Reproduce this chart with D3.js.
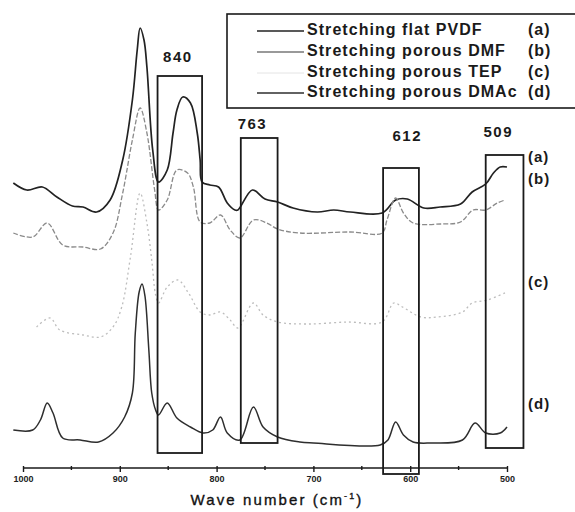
<!DOCTYPE html>
<html><head><meta charset="utf-8">
<script src="https://cdn.jsdelivr.net/npm/d3@7"></script>
<style>
html,body{margin:0;padding:0;background:#fff;}
svg{display:block;font-family:"Liberation Sans",Arial,Helvetica,sans-serif;}
</style></head>
<body>
<script>
// ---- data (wave number cm^-1, offset intensity a.u.) ----
const waveA = [1010,996,980,965,949,938,924,910,897,887,882,879,875,872,866,860,851,845,841,835,827,820,817,815,807,798,789,781,778,763,750,737,721,696,679,662,629,615,603,586,569,548,536,522,514,507,500];
const valA  = [28.5,27.8,28.1,27.1,26.2,26.1,25.6,26.8,30.8,36.8,41.8,44.0,42.8,40.1,31.8,28.6,29.8,33.5,35.8,37.1,36.5,33.5,30.8,28.6,28.3,28.1,26.5,25.8,25.8,27.8,26.9,26.6,26.0,25.6,25.8,25.6,25.5,26.8,26.9,26.0,26.1,26.4,27.6,28.4,29.5,30.1,30.1];

const waveB = [1010,990,975,959,938,920,907,897,887,879,872,864,860,851,841,830,824,817,807,796,786,776,762,748,737,714,662,629,624,615,607,597,569,548,535,522,510,502];
const valB  = [23.5,23.1,24.5,22.3,22.1,21.9,23.5,27.5,32.8,36.0,33.5,27.8,25.8,26.8,29.8,29.5,28.1,24.6,24.5,25.3,23.8,23.0,24.8,24.5,23.9,23.5,23.6,23.5,24.8,27.0,25.5,24.5,24.4,24.6,25.8,25.8,26.5,26.8];

const waveC = [986,972,962,938,920,907,898,889,879,872,867,863,860,851,840,829,817,807,796,786,778,762,752,737,706,665,629,617,608,589,572,546,536,520,500];
const valC  = [14.1,15.0,13.8,13.3,13.1,14.1,16.1,21.1,27.5,24.5,20.8,17.3,16.5,18.1,18.8,17.5,15.6,15.3,15.6,14.8,14.0,16.5,15.3,14.6,14.4,14.6,14.6,16.5,16.1,15.1,15.1,15.6,16.5,16.8,17.6];

const waveD = [1010,990,982,975,969,959,941,922,907,895,887,884,880,877,874,870,867,863,860,851,841,827,814,804,796,789,776,762,752,737,714,700,631,623,615,607,597,579,546,533,522,507,500];
const valD  = [3.8,3.8,4.8,6.5,5.5,3.0,2.8,2.6,3.5,5.1,7.5,13.5,17.6,18.4,17.2,11.8,7.5,5.8,5.3,6.5,5.0,4.1,3.5,3.8,5.1,3.5,2.8,6.1,4.1,3.1,2.6,2.5,2.3,2.8,4.6,3.3,2.6,2.5,2.8,4.5,3.5,3.5,4.1];

const seriesNames = ["Stretching flat PVDF","Stretching porous DMF","Stretching porous TEP","Stretching porous DMAc"];
const seriesTags  = ["(a)","(b)","(c)","(d)"];
const tagLevels   = [31.0, 28.8, 18.5, 6.3];   // y-level where the (a)..(d) tags sit

const xTicks = [1000,900,800,700,600,500];
const xMinor = [950,850,750,650,550];

// highlighted bands: [wave left, wave right, top level, bottom level]
const bandLabels = ["840","763","612","509"];
const bandLeft   = [861,775,628,522];
const bandRight  = [815,737,591,483];
const bandTop    = [39.2,33.0,30.0,31.3];
const bandBottom = [1.5,2.5,-0.6,2.0];
const bandLabelLevel = [41.0,34.3,33.1,33.5];
const bandLabelWave  = [840,763,603,509];

// ---- drawing ----
const W = 575, H = 512;
const svg = d3.select("body").append("svg").attr("width",W).attr("height",H);

const x = d3.scaleLinear().domain([1000,500]).range([23,507]);
const y = d3.scaleLinear().domain([0,44]).range([468,28]);

const styles = [
  {stroke:"#222222", width:1.7, dash:null},
  {stroke:"#8a8a8a", width:1.3, dash:"5,2"},
  {stroke:"#bdbdbd", width:1.3, dash:"2,3"},
  {stroke:"#2e2e2e", width:1.5, dash:null}
];
const waves = [waveA,waveB,waveC,waveD];
const vals  = [valA,valB,valC,valD];

const line = d3.line().x(d=>x(d[0])).y(d=>y(d[1])).curve(d3.curveCatmullRom.alpha(0.5));

waves.forEach((w,i)=>{
  const pts = w.map((wv,j)=>[wv, vals[i][j]]);
  svg.append("path").datum(pts)
    .attr("d",line).attr("fill","none")
    .attr("stroke",styles[i].stroke).attr("stroke-width",styles[i].width)
    .attr("stroke-dasharray",styles[i].dash)
    .attr("stroke-linejoin","round");
});

// band rectangles
bandLabels.forEach((lab,i)=>{
  svg.append("rect")
    .attr("x",x(bandLeft[i])).attr("y",y(bandTop[i]))
    .attr("width",x(bandRight[i])-x(bandLeft[i]))
    .attr("height",y(bandBottom[i])-y(bandTop[i]))
    .attr("fill","none").attr("stroke","#1a1a1a").attr("stroke-width",1.8);
  svg.append("text").attr("x",x(bandLabelWave[i])).attr("y",y(bandLabelLevel[i]))
    .attr("text-anchor","middle").attr("dominant-baseline","middle")
    .attr("font-size",15).attr("font-weight","bold").attr("letter-spacing",1.5)
    .attr("fill","#1a1a1a").text(lab);
});

// series tags
seriesTags.forEach((t,i)=>{
  svg.append("text").attr("x",528).attr("y",y(tagLevels[i]))
    .attr("dominant-baseline","middle")
    .attr("font-size",15).attr("font-weight","bold").attr("letter-spacing",1)
    .attr("fill","#1a1a1a").text(t);
});

// axis
const axis = d3.axisBottom(x).tickValues(xTicks).tickSize(4).tickPadding(4).tickFormat(d3.format("d"));
const gx = svg.append("g").attr("transform",`translate(0,${y(0)})`).call(axis);
gx.select(".domain").attr("stroke","#1a1a1a").attr("stroke-width",1.6).attr("d",`M${x(1000)},0H${x(500)}`);
gx.selectAll(".tick line").attr("stroke","#1a1a1a").attr("stroke-width",1.4).attr("y1",-2);
gx.selectAll(".tick text").attr("font-size",9).attr("font-weight","bold").attr("fill","#222")
  .attr("font-family","'Liberation Sans',Arial,sans-serif");
gx.selectAll(".minor").data(xMinor).enter().append("line")
  .attr("x1",d=>x(d)).attr("x2",d=>x(d)).attr("y1",-2).attr("y2",2)
  .attr("stroke","#1a1a1a").attr("stroke-width",1.4);

const xl = svg.append("text").attr("x",277).attr("y",505).attr("text-anchor","middle")
  .attr("font-size",15).attr("letter-spacing",2.1).attr("fill","#111")
  .attr("stroke","#111").attr("stroke-width",0.35);
xl.append("tspan").text("Wave number (cm");
xl.append("tspan").attr("dy",-6).attr("font-size",9).text("-1");
xl.append("tspan").attr("dy",6).text(")");

// legend
svg.append("rect").attr("x",227).attr("y",14).attr("width",360).attr("height",94)
  .attr("fill","#fff").attr("fill-opacity",0).attr("stroke","#1a1a1a").attr("stroke-width",1.6);
const legendY = [31,52,73,93];
seriesNames.forEach((nm,i)=>{
  svg.append("line").attr("x1",257).attr("x2",304).attr("y1",legendY[i]).attr("y2",legendY[i])
    .attr("stroke", i===1 ? "#777" : (i===2 ? "#e4e4e4" : styles[i].stroke))
    .attr("stroke-width", i===2 ? 1 : 1.4);
  svg.append("text").attr("x",307).attr("y",legendY[i]).attr("dominant-baseline","middle")
    .attr("font-size",16).attr("font-weight","bold").attr("letter-spacing",1.05)
    .attr("fill","#1a1a1a").text(nm);
  svg.append("text").attr("x",528).attr("y",legendY[i]).attr("dominant-baseline","middle")
    .attr("font-size",16).attr("font-weight","bold").attr("letter-spacing",1)
    .attr("fill","#1a1a1a").text(seriesTags[i]);
});
</script>
</body></html>
